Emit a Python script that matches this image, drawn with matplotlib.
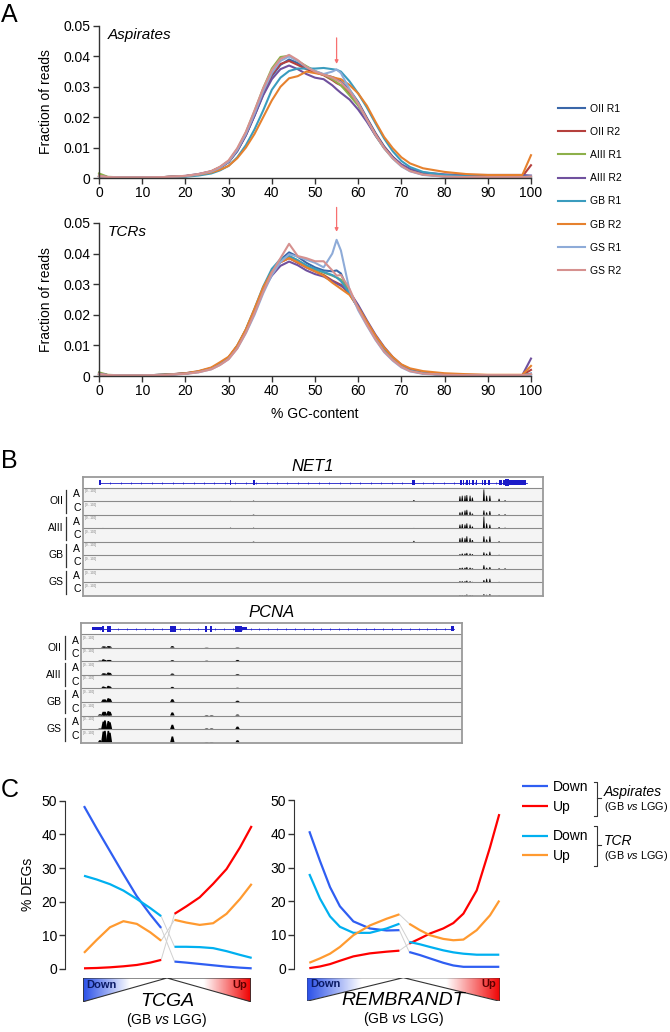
import numpy as np
import matplotlib
matplotlib.use("Agg")
import matplotlib.pyplot as plt
from matplotlib import transforms
from matplotlib.colors import LinearSegmentedColormap
from matplotlib.patches import Polygon, Rectangle

plt.rcParams['font.family'] = ['Liberation Sans', 'DejaVu Sans']
plt.rcParams['mathtext.fontset'] = 'custom'
plt.rcParams['mathtext.rm'] = 'Liberation Sans'
plt.rcParams['mathtext.it'] = 'Liberation Sans:italic'

W, H = 670, 1032

# ---------------- panel A : GC content of reads ----------------
gc = [0, 2, 5, 10, 15, 20, 23, 26, 28, 30, 32, 34, 36, 38, 40, 42, 44, 46, 48, 50,
      52, 54, 55, 56, 58, 60, 62, 64, 66, 68, 70, 72, 75, 80, 85, 90, 95, 98, 100]

asp_oii_r1 = [0.0008,0.0003,0.0002,0.0002,0.0003,0.0006,0.0011,0.0020,0.0033,0.0052,0.0088,0.0140,0.0205,0.0275,0.0335,0.0372,0.0390,0.0378,0.0362,0.0350,0.0340,0.0332,0.0326,0.0318,0.0290,0.0250,0.0198,0.0148,0.0104,0.0070,0.0043,0.0026,0.0013,0.0006,0.0004,0.0003,0.0003,0.0003,0.0006]
asp_oii_r2 = [0.0007,0.0003,0.0002,0.0002,0.0003,0.0006,0.0011,0.0021,0.0034,0.0053,0.0090,0.0142,0.0208,0.0280,0.0340,0.0375,0.0385,0.0372,0.0358,0.0348,0.0338,0.0322,0.0312,0.0305,0.0280,0.0245,0.0195,0.0145,0.0102,0.0068,0.0042,0.0025,0.0012,0.0006,0.0005,0.0005,0.0005,0.0005,0.0042]
asp_aiii_r1 = [0.0015,0.0004,0.0002,0.0002,0.0003,0.0006,0.0012,0.0022,0.0036,0.0056,0.0095,0.0150,0.0220,0.0295,0.0360,0.0398,0.0402,0.0385,0.0368,0.0352,0.0340,0.0325,0.0315,0.0305,0.0272,0.0238,0.0190,0.0140,0.0098,0.0065,0.0040,0.0024,0.0012,0.0005,0.0003,0.0003,0.0003,0.0003,0.0005]
asp_aiii_r2 = [0.0006,0.0003,0.0002,0.0002,0.0003,0.0007,0.0013,0.0022,0.0035,0.0054,0.0090,0.0142,0.0205,0.0272,0.0325,0.0358,0.0370,0.0358,0.0342,0.0330,0.0325,0.0305,0.0292,0.0280,0.0258,0.0225,0.0185,0.0140,0.0100,0.0068,0.0045,0.0030,0.0018,0.0012,0.0010,0.0010,0.0010,0.0010,0.0008]
asp_gb_r1 = [0.0006,0.0002,0.0001,0.0001,0.0002,0.0004,0.0008,0.0015,0.0025,0.0040,0.0068,0.0108,0.0160,0.0222,0.0290,0.0330,0.0352,0.0360,0.0360,0.0360,0.0362,0.0358,0.0356,0.0350,0.0318,0.0278,0.0232,0.0180,0.0130,0.0088,0.0056,0.0036,0.0020,0.0010,0.0006,0.0004,0.0004,0.0004,0.0005]
asp_gb_r2 = [0.0006,0.0003,0.0002,0.0002,0.0003,0.0006,0.0011,0.0018,0.0027,0.0040,0.0065,0.0100,0.0145,0.0200,0.0255,0.0300,0.0328,0.0335,0.0350,0.0345,0.0340,0.0332,0.0328,0.0325,0.0306,0.0278,0.0238,0.0185,0.0135,0.0098,0.0068,0.0048,0.0032,0.0020,0.0013,0.0010,0.0010,0.0010,0.0075]
asp_gs_r1 = [0.0006,0.0003,0.0002,0.0002,0.0003,0.0006,0.0012,0.0021,0.0034,0.0054,0.0092,0.0145,0.0212,0.0285,0.0345,0.0385,0.0400,0.0385,0.0365,0.0352,0.0342,0.0350,0.0357,0.0345,0.0292,0.0245,0.0192,0.0142,0.0098,0.0064,0.0038,0.0022,0.0010,0.0004,0.0003,0.0003,0.0003,0.0003,0.0004]
asp_gs_r2 = [0.0007,0.0003,0.0002,0.0002,0.0003,0.0007,0.0013,0.0023,0.0037,0.0058,0.0098,0.0152,0.0222,0.0295,0.0355,0.0392,0.0405,0.0388,0.0365,0.0350,0.0340,0.0330,0.0322,0.0315,0.0285,0.0245,0.0193,0.0143,0.0099,0.0065,0.0040,0.0023,0.0011,0.0005,0.0003,0.0003,0.0003,0.0003,0.0005]

tcr_oii_r1 = [0.0008,0.0003,0.0002,0.0002,0.0004,0.0008,0.0014,0.0025,0.0040,0.0060,0.0098,0.0150,0.0215,0.0285,0.0340,0.0380,0.0404,0.0390,0.0370,0.0355,0.0345,0.0342,0.0345,0.0335,0.0270,0.0222,0.0172,0.0125,0.0085,0.0055,0.0032,0.0018,0.0009,0.0004,0.0003,0.0003,0.0003,0.0003,0.0008]
tcr_oii_r2 = [0.0007,0.0003,0.0002,0.0002,0.0004,0.0008,0.0014,0.0025,0.0040,0.0060,0.0097,0.0148,0.0212,0.0282,0.0335,0.0372,0.0385,0.0370,0.0355,0.0342,0.0330,0.0312,0.0305,0.0298,0.0268,0.0222,0.0172,0.0125,0.0085,0.0055,0.0032,0.0018,0.0009,0.0004,0.0003,0.0003,0.0003,0.0003,0.0020]
tcr_aiii_r1 = [0.0012,0.0004,0.0002,0.0002,0.0004,0.0008,0.0014,0.0025,0.0040,0.0060,0.0097,0.0150,0.0215,0.0285,0.0338,0.0375,0.0392,0.0378,0.0360,0.0348,0.0338,0.0328,0.0322,0.0315,0.0275,0.0228,0.0176,0.0128,0.0088,0.0057,0.0033,0.0019,0.0009,0.0004,0.0003,0.0003,0.0003,0.0003,0.0006]
tcr_aiii_r2 = [0.0008,0.0003,0.0002,0.0002,0.0004,0.0009,0.0015,0.0026,0.0041,0.0060,0.0097,0.0148,0.0212,0.0280,0.0328,0.0360,0.0374,0.0362,0.0345,0.0333,0.0325,0.0310,0.0302,0.0295,0.0275,0.0232,0.0182,0.0135,0.0095,0.0062,0.0037,0.0021,0.0010,0.0005,0.0004,0.0003,0.0003,0.0003,0.0057]
tcr_gb_r1 = [0.0006,0.0003,0.0002,0.0002,0.0004,0.0008,0.0014,0.0025,0.0040,0.0060,0.0098,0.0152,0.0220,0.0292,0.0350,0.0382,0.0392,0.0378,0.0362,0.0350,0.0340,0.0330,0.0322,0.0310,0.0270,0.0224,0.0174,0.0126,0.0086,0.0055,0.0032,0.0018,0.0009,0.0004,0.0003,0.0003,0.0003,0.0003,0.0006]
tcr_gb_r2 = [0.0006,0.0003,0.0002,0.0002,0.0004,0.0009,0.0016,0.0028,0.0045,0.0063,0.0100,0.0153,0.0220,0.0290,0.0340,0.0372,0.0385,0.0372,0.0355,0.0342,0.0328,0.0305,0.0295,0.0285,0.0265,0.0225,0.0178,0.0132,0.0093,0.0062,0.0038,0.0025,0.0016,0.0009,0.0006,0.0004,0.0004,0.0004,0.0033]
tcr_gs_r1 = [0.0006,0.0003,0.0002,0.0002,0.0003,0.0007,0.0012,0.0022,0.0036,0.0055,0.0090,0.0140,0.0200,0.0270,0.0330,0.0372,0.0398,0.0390,0.0380,0.0370,0.0355,0.0400,0.0445,0.0410,0.0280,0.0215,0.0165,0.0118,0.0078,0.0050,0.0028,0.0015,0.0007,0.0003,0.0002,0.0002,0.0002,0.0002,0.0004]
tcr_gs_r2 = [0.0006,0.0003,0.0002,0.0002,0.0003,0.0007,0.0012,0.0022,0.0036,0.0055,0.0090,0.0142,0.0205,0.0275,0.0338,0.0385,0.0432,0.0392,0.0385,0.0375,0.0375,0.0345,0.0328,0.0330,0.0285,0.0220,0.0168,0.0120,0.0080,0.0052,0.0030,0.0016,0.0008,0.0004,0.0003,0.0003,0.0003,0.0003,0.0006]

samples = ['OII R1', 'OII R2', 'AIII R1', 'AIII R2', 'GB R1', 'GB R2', 'GS R1', 'GS R2']
sample_colors = ['#3A67A9', '#B5403D', '#8DB04A', '#70519E', '#3A9CBE', '#E6812E', '#8EABD8', '#D6918F']
asp_series = [asp_oii_r1, asp_oii_r2, asp_aiii_r1, asp_aiii_r2, asp_gb_r1, asp_gb_r2, asp_gs_r1, asp_gs_r2]
tcr_series = [tcr_oii_r1, tcr_oii_r2, tcr_aiii_r1, tcr_aiii_r2, tcr_gb_r1, tcr_gb_r2, tcr_gs_r1, tcr_gs_r2]
peak_gc = 55

# ---------------- panel B : genome browser tracks ----------------
groups = ['OII', 'AIII', 'GB', 'GS']

net1_gene = [0.037, 0.965]
net1_ex_start = [0.035, 0.320, 0.370, 0.716, 0.820, 0.825, 0.833, 0.838, 0.846, 0.853, 0.866, 0.872, 0.881, 0.903, 0.907, 0.912, 0.917, 0.926]
net1_ex_end = [0.040, 0.323, 0.373, 0.722, 0.823, 0.828, 0.836, 0.841, 0.849, 0.857, 0.870, 0.876, 0.885, 0.906, 0.910, 0.916, 0.926, 0.962]
net1_ex_h = [0.55, 0.55, 0.55, 0.55, 0.55, 0.55, 0.55, 0.55, 0.55, 0.55, 0.55, 0.55, 0.55, 0.55, 0.55, 0.55, 0.62, 0.4]
net1_peaks = [0.044, 0.321, 0.371, 0.719, 0.819, 0.824, 0.830, 0.834, 0.841, 0.846, 0.871, 0.877, 0.884, 0.904, 0.917]
net1_oii_a = [0, 0.03, 0.05, 0.10, 0.40, 0.45, 0.45, 0.50, 0.45, 0.30, 0.95, 0.45, 0.45, 0.20, 0.08]
net1_oii_c = [0, 0, 0.03, 0, 0.20, 0.25, 0.35, 0.40, 0.25, 0.10, 0.35, 0.20, 0.30, 0.05, 0.05]
net1_aiii_a = [0.03, 0.05, 0.05, 0.03, 0.30, 0.35, 0.30, 0.40, 0.30, 0.15, 0.95, 0.40, 0.30, 0.10, 0.05]
net1_aiii_c = [0, 0, 0.03, 0.08, 0.30, 0.35, 0.30, 0.45, 0.30, 0.15, 0.45, 0.20, 0.45, 0.05, 0]
net1_gb_a = [0, 0, 0.02, 0, 0.10, 0.15, 0.15, 0.20, 0.15, 0.10, 0.25, 0.15, 0.30, 0.05, 0]
net1_gb_c = [0, 0, 0, 0, 0.08, 0.10, 0.10, 0.15, 0.10, 0.05, 0.30, 0.10, 0.15, 0.05, 0.05]
net1_gs_a = [0, 0, 0, 0.03, 0.10, 0.10, 0.10, 0.15, 0.10, 0.05, 0.20, 0.30, 0.30, 0.05, 0]
net1_gs_c = [0, 0, 0, 0, 0.08, 0.08, 0.08, 0.12, 0.08, 0.05, 0.15, 0.10, 0.15, 0.03, 0]
net1_rows = [net1_oii_a, net1_oii_c, net1_aiii_a, net1_aiii_c, net1_gb_a, net1_gb_c, net1_gs_a, net1_gs_c]

pcna_gene = [0.027, 0.978]
pcna_ex_start = [0.027, 0.054, 0.067, 0.233, 0.325, 0.338, 0.404, 0.423, 0.970]
pcna_ex_end = [0.054, 0.060, 0.077, 0.248, 0.331, 0.344, 0.423, 0.435, 0.978]
pcna_ex_h = [0.32, 0.55, 0.55, 0.55, 0.55, 0.55, 0.55, 0.32, 0.45]
pcna_peaks = [0.049, 0.058, 0.062, 0.071, 0.075, 0.239, 0.329, 0.342, 0.410]
pcna_oii_a = [0, 0.10, 0.08, 0.12, 0.10, 0.12, 0.02, 0, 0.03]
pcna_oii_c = [0.05, 0.15, 0.10, 0.10, 0.10, 0.08, 0.04, 0, 0.10]
pcna_aiii_a = [0, 0.12, 0.10, 0.18, 0.15, 0.10, 0, 0, 0.06]
pcna_aiii_c = [0, 0.15, 0.10, 0.20, 0.15, 0.12, 0, 0, 0.05]
pcna_gb_a = [0, 0.20, 0.20, 0.30, 0.25, 0.22, 0, 0, 0.10]
pcna_gb_c = [0.10, 0.30, 0.30, 0.35, 0.30, 0.25, 0.04, 0.04, 0.08]
pcna_gs_a = [0.05, 0.60, 0.70, 0.65, 0.55, 0.35, 0.05, 0.05, 0.20]
pcna_gs_c = [0.20, 0.90, 0.95, 0.95, 0.80, 0.50, 0.05, 0.05, 0.20]
pcna_rows = [pcna_oii_a, pcna_oii_c, pcna_aiii_a, pcna_aiii_c, pcna_gb_a, pcna_gb_c, pcna_gs_a, pcna_gs_c]

# ---------------- panel C : % DEGs ----------------
tcga_x_left = [0, 7.5, 15.5, 23.5, 31.5, 39.5, 46]
tcga_x_right = [54, 61, 69, 77, 85, 93, 100]
tcga_asp_down_l = [48.4, 41.8, 35.0, 28.2, 21.6, 16.2, 12.2]
tcga_asp_down_r = [2.2, 1.9, 1.5, 1.1, 0.7, 0.4, 0.2]
tcga_asp_up_l = [0.2, 0.3, 0.5, 0.8, 1.2, 1.9, 2.7]
tcga_asp_up_r = [16.4, 18.6, 21.3, 25.3, 29.7, 36.1, 42.5]
tcga_tcr_down_l = [27.7, 26.6, 25.2, 23.3, 20.8, 18.1, 15.7]
tcga_tcr_down_r = [6.6, 6.6, 6.5, 6.2, 5.3, 4.2, 3.3]
tcga_tcr_up_l = [4.8, 8.6, 12.4, 14.2, 13.4, 10.9, 8.4]
tcga_tcr_up_r = [14.6, 13.8, 13.1, 13.6, 16.4, 20.8, 25.3]

remb_x_left = [0, 5.6, 10.9, 16.1, 23.2, 31.9, 40.7, 47.4]
remb_x_right = [52.6, 58.2, 63.5, 70.5, 75.8, 81.1, 88.1, 95.1, 100]
remb_asp_down_l = [40.8, 32.0, 24.2, 18.5, 14.0, 11.9, 11.3, 11.4]
remb_asp_down_r = [4.9, 4.0, 3.0, 1.7, 0.9, 0.5, 0.5, 0.5, 0.5]
remb_asp_up_l = [0.1, 0.6, 1.3, 2.3, 3.6, 4.5, 5.0, 5.3]
remb_asp_up_r = [7.4, 8.9, 10.4, 11.9, 13.5, 16.3, 23.2, 36.0, 45.9]
remb_tcr_down_l = [28.1, 20.8, 15.5, 12.4, 10.6, 10.6, 11.9, 13.3]
remb_tcr_down_r = [7.9, 7.2, 6.4, 5.4, 4.8, 4.4, 4.1, 4.1, 4.1]
remb_tcr_up_l = [1.7, 3.0, 4.4, 6.4, 9.9, 12.8, 14.8, 16.1]
remb_tcr_up_r = [13.3, 11.4, 9.9, 8.8, 8.4, 8.6, 11.4, 15.8, 20.2]

deg_colors = ['#2F5EF2', '#FF0000', '#00B0F0', '#FF9A30']
deg_labels = ['Down', 'Up', 'Down', 'Up']


def box(x0, y0, x1, y1):
    # pixel box -> figure fraction rect
    return [x0 / W, 1 - y1 / H, (x1 - x0) / W, (y1 - y0) / H]


fig = plt.figure(figsize=(W / 100, H / 100), dpi=100)

# ---- A ----
def style_a(ax):
    ax.set_xlim(0, 100)
    ax.set_ylim(0, 0.05)
    for s in ['top', 'right']:
        ax.spines[s].set_visible(False)
    for s in ['left', 'bottom']:
        ax.spines[s].set_color('#333333')
        ax.spines[s].set_linewidth(1.0)
    ax.set_xticks(range(0, 101, 10))
    ax.set_yticks([0, 0.01, 0.02, 0.03, 0.04, 0.05])
    ax.set_yticklabels(['0', '0.01', '0.02', '0.03', '0.04', '0.05'])
    ax.tick_params(length=4, width=1, labelsize=10, pad=2, color='#333333')
    ax.set_ylabel('Fraction of reads', fontsize=10)
    ax.yaxis.set_label_coords(-0.106, 0.5)
    ax.patch.set_alpha(0)


axA1 = fig.add_axes(box(99, 26, 531, 178))
axA2 = fig.add_axes(box(99, 223, 531, 376))
handles = []
for ys, ys2, lab, col in zip(asp_series, tcr_series, samples, sample_colors):
    ln, = axA1.plot(gc, ys, color=col, lw=1.5, label=lab, clip_on=False)
    axA2.plot(gc, ys2, color=col, lw=1.5, clip_on=False)
    handles.append(ln)
style_a(axA1)
style_a(axA2)
axA1.text(0.02, 0.985, 'Aspirates', transform=axA1.transAxes, fontsize=11, style='italic', va='top')
axA2.text(0.02, 0.985, 'TCRs', transform=axA2.transAxes, fontsize=11, style='italic', va='top')
axA2.set_xlabel('% GC-content', fontsize=10, labelpad=6)
for ax, y0, y1 in [(axA1, 0.047, 0.0366), (axA2, 0.056, 0.0462)]:
    ax.annotate('', xy=(peak_gc, y1), xytext=(peak_gc, y0),
                arrowprops=dict(arrowstyle='-|>', color='#F77070', lw=0.9, mutation_scale=5),
                annotation_clip=False)
fig.legend(handles, samples, loc='upper left', bbox_to_anchor=(558 / W, 1 - 103.5 / H),
           frameon=False, fontsize=7.5, handlelength=2.6, handletextpad=0.5,
           labelspacing=1.27, borderpad=0, borderaxespad=0)

# ---- B ----
gene_blue = '#1B1BC8'


def draw_locus(ax, title, gene, ex_s, ex_e, ex_h, pk_pos, rows, half_w, left_px, g):
    n = len(rows)
    ax.set_xlim(0, 1)
    ax.set_ylim(n, -g)
    ax.set_xticks([])
    ax.set_yticks([])
    for s in ax.spines.values():
        s.set_color('#9A9A9A')
        s.set_linewidth(1.3)
    ax.axhspan(0, n, color='#F4F4F4', lw=0)
    for i in range(n):
        ax.axhline(i, color='#8A8A8A', lw=0.8)
    yc = -g / 2
    ax.plot(gene, [yc, yc], color=gene_blue, lw=0.6)
    marks = np.linspace(gene[0], gene[1], 42)[1:-1]
    ax.plot(marks, np.full(len(marks), yc), ls='none', marker='|', ms=1.8, mew=0.5, color=gene_blue)
    for s, e, h in zip(ex_s, ex_e, ex_h):
        ax.add_patch(Rectangle((s, yc - h * g / 2), e - s, h * g, color=gene_blue, lw=0))
    for r, hs in enumerate(rows):
        base = r + 1
        for p, h in zip(pk_pos, hs):
            if h > 0:
                ax.fill([p - half_w, p - half_w * 0.35, p + half_w * 0.35, p + half_w],
                        [base, base - 0.92 * h, base - 0.92 * h, base], color='k', lw=0)
        ax.text(0.005, r + 0.12, '[0 - 100]', fontsize=2.2, color='#777777', va='top')
    trans = transforms.blended_transform_factory(fig.transFigure, ax.transData)
    for gi, grp in enumerate(groups):
        ax.text((left_px - 19.5) / W, 2 * gi + 1, grp, transform=trans, ha='right', va='center', fontsize=7.5)
        ax.plot([(left_px - 16.3) / W] * 2, [2 * gi + 0.15, 2 * gi + 1.85], transform=trans,
                color='#333333', lw=0.9, clip_on=False)
        for ci, cond in enumerate(['A', 'C']):
            ax.text((left_px - 5.8) / W, 2 * gi + ci + 0.5, cond, transform=trans,
                    ha='center', va='center', fontsize=7.5)
    ax.annotate(title, xy=(0.5, 1), xycoords='axes fraction', xytext=(0, 8),
                textcoords='offset points', ha='center', va='center', fontsize=12, style='italic')


axN = fig.add_axes(box(82.7, 477.3, 543.3, 596))
draw_locus(axN, 'NET1', net1_gene, net1_ex_start, net1_ex_end, net1_ex_h, net1_peaks,
           net1_rows, 0.0022, 82.7, 0.77)
axP = fig.add_axes(box(81.3, 623.3, 462.3, 742.7))
draw_locus(axP, 'PCNA', pcna_gene, pcna_ex_start, pcna_ex_end, pcna_ex_h, pcna_peaks,
           pcna_rows, 0.006, 81.3, 0.79)

# ---- C ----
def style_c(ax, outward):
    ax.set_xlim(0, 100)
    ax.set_ylim(0, 50)
    for s in ['top', 'right', 'bottom']:
        ax.spines[s].set_visible(False)
    ax.spines['left'].set_position(('outward', outward))
    ax.spines['left'].set_color('#333333')
    ax.set_xticks([])
    ax.set_yticks(range(0, 51, 10))
    ax.tick_params(axis='y', length=4, width=1, labelsize=10, pad=2, color='#333333')
    ax.patch.set_alpha(0)


def draw_degs(ax, xl, xr, series):
    lines = []
    for (yl, yr), col in zip(series, deg_colors):
        ax.plot([xl[-1], xr[0]], [yl[-1], yr[0]], color='#D0D0D0', lw=0.7, zorder=1)
    for (yl, yr), col in zip(series, deg_colors):
        ln, = ax.plot(xl, yl, color=col, lw=1.6, clip_on=False, solid_capstyle='butt')
        ax.plot(xr, yr, color=col, lw=1.6, clip_on=False, solid_capstyle='butt')
        lines.append(ln)
    return lines


axC1 = fig.add_axes(box(84, 800.7, 251.7, 969))
axC2 = fig.add_axes(box(309.3, 800.3, 499.3, 968.5))
deg_lines = draw_degs(axC1, tcga_x_left, tcga_x_right,
                      [(tcga_asp_down_l, tcga_asp_down_r), (tcga_asp_up_l, tcga_asp_up_r),
                       (tcga_tcr_down_l, tcga_tcr_down_r), (tcga_tcr_up_l, tcga_tcr_up_r)])
draw_degs(axC2, remb_x_left, remb_x_right,
          [(remb_asp_down_l, remb_asp_down_r), (remb_asp_up_l, remb_asp_up_r),
           (remb_tcr_down_l, remb_tcr_down_r), (remb_tcr_up_l, remb_tcr_up_r)])
style_c(axC1, 13.5)
style_c(axC2, 10.8)
axC1.set_ylabel('% DEGs', fontsize=10)
axC1.yaxis.set_label_coords(-0.29, 0.5)

grad_cmap = LinearSegmentedColormap.from_list(
    'dn_up', [(0, '#2A50E8'), (0.28, '#FFFFFF'), (0.72, '#FFFFFF'), (1, '#F00000')])


def draw_rank_bar(ax, name):
    grad = np.linspace(0, 1, 256).reshape(1, -1)
    for verts in ([(0, 0), (0, 1), (0.5, 1)], [(0.5, 1), (1, 1), (1, 0)]):
        poly = Polygon(verts, closed=True, fill=False, edgecolor='#333333', lw=0.8, zorder=3)
        ax.add_patch(poly)
        im = ax.imshow(grad, extent=(0, 1, 0, 1), aspect='auto', cmap=grad_cmap, vmin=0, vmax=1)
        im.set_clip_path(poly)
    ax.set_xlim(0, 1)
    ax.set_ylim(0, 1)
    ax.axis('off')
    ax.text(0.02, 0.93, 'Down', fontsize=8, fontweight='bold', color='#0B1B66', va='top', ha='left')
    ax.text(0.98, 0.93, 'Up', fontsize=8, fontweight='bold', color='#5A0000', va='top', ha='right')
    ax.text(0.5, 0.02, name, fontsize=14, style='italic', ha='center', va='center')
    ax.text(0.5, -0.76, '(GB $\\mathit{vs}$ LGG)', fontsize=10, ha='center', va='center')


axG1 = fig.add_axes(box(83.3, 978, 250.7, 1001.7))
draw_rank_bar(axG1, 'TCGA')
axG2 = fig.add_axes(box(306.7, 977.7, 500, 1001.3))
draw_rank_bar(axG2, 'REMBRANDT')

leg_kw = dict(loc='upper left', frameon=False, fontsize=10, handlelength=1.9,
              handletextpad=0.35, labelspacing=0.42, borderpad=0, borderaxespad=0)
fig.legend(deg_lines[:2], deg_labels[:2], bbox_to_anchor=(521.7 / W, 1 - 780 / H), **leg_kw)
fig.legend(deg_lines[2:], deg_labels[2:], bbox_to_anchor=(521.7 / W, 1 - 829.5 / H), **leg_kw)

# overlay for panel letters and legend brackets (pixel coordinates)
ov = fig.add_axes([0, 0, 1, 1])
ov.set_xlim(0, W)
ov.set_ylim(H, 0)
ov.axis('off')
for top, bot, mid, name, ny in [(781.7, 816, 798.3, 'Aspirates', 791.7), (826, 866, 845, 'TCR', 841)]:
    ov.plot([593.5, 596.7, 596.7, 593.5], [top, top, bot, bot], color='#333333', lw=0.8)
    ov.plot([596.7, 601], [mid, mid], color='#333333', lw=0.8)
    ov.text(604, ny, name, fontsize=10, style='italic', va='center')
    ov.text(604, ny + 15, '(GB $\\mathit{vs}$ LGG)', fontsize=7.8, va='center')
for letter, ly in [('A', 15), ('B', 461), ('C', 790)]:
    ov.text(1, ly, letter, fontsize=18, va='center', ha='left')

fig.savefig('out.png', dpi=100)
